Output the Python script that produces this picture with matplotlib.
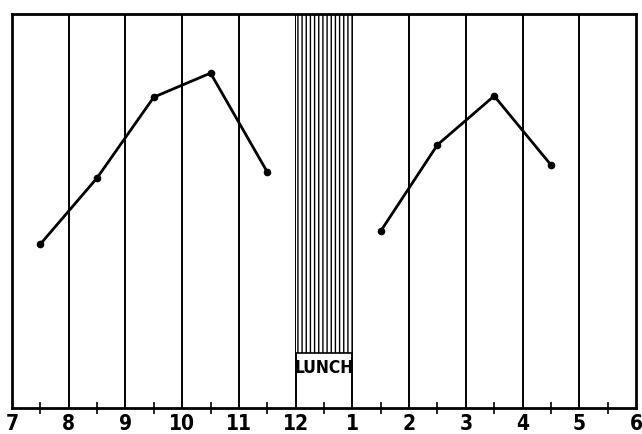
import matplotlib.pyplot as plt
import numpy as np

# hours of the working day (24h clock), labels as printed
hours = np.arange(7, 19)
hour_labels = ['7', '8', '9', '10', '11', '12', '1', '2', '3', '4', '5', '6']

# output per hour, morning and afternoon spells (arbitrary units)
morning_x = [7.5, 8.5, 9.5, 10.5, 11.5]
morning_y = [41.6, 58.4, 78.9, 85.0, 59.9]
afternoon_x = [13.5, 14.5, 15.5, 16.5]
afternoon_y = [44.9, 66.8, 79.2, 61.7]

lunch_start, lunch_end = 12, 13
lunch_label_top = 14.0

plt.rcParams['hatch.linewidth'] = 1.0
fig = plt.figure(figsize=(6.42, 4.34), dpi=100)
ax = fig.add_axes([12 / 642, 26 / 434, 624 / 642, 394 / 434])

ax.set_xlim(7, 18)
ax.set_ylim(0, 100)

# vertical hour rules
for h in hours[1:-1]:
    ax.axvline(h, color='black', lw=1.4, zorder=1)

# lunch hour, hatched
ax.fill_between([lunch_start, lunch_end], lunch_label_top, 100, facecolor='white',
                edgecolor='black', hatch='||||', lw=0, zorder=2)
ax.plot([lunch_start, lunch_end], [lunch_label_top, lunch_label_top], color='black', lw=1.2, zorder=3)
ax.text((lunch_start + lunch_end) / 2, lunch_label_top / 2 + 3.2, 'LUNCH', ha='center', va='center',
        fontsize=12.5, fontweight='bold', family='DejaVu Sans', stretch='condensed', zorder=4)

ax.plot(morning_x, morning_y, color='black', lw=2, marker='o', ms=4.5, zorder=5)
ax.plot(afternoon_x, afternoon_y, color='black', lw=2, marker='o', ms=4.5, zorder=5)

ax.set_xticks(hours)
ax.set_xticklabels(hour_labels, fontsize=15, fontweight='bold',
                   family='DejaVu Sans', stretch='condensed')
ax.set_xticks(np.arange(7.5, 18, 1), minor=True)
ax.tick_params(axis='x', which='major', length=0, pad=4)
ax.tick_params(axis='x', which='minor', direction='inout', length=8, width=1.2)
ax.set_yticks([])
for s in ax.spines.values():
    s.set_linewidth(2)

fig.savefig('out.png', dpi=100)
